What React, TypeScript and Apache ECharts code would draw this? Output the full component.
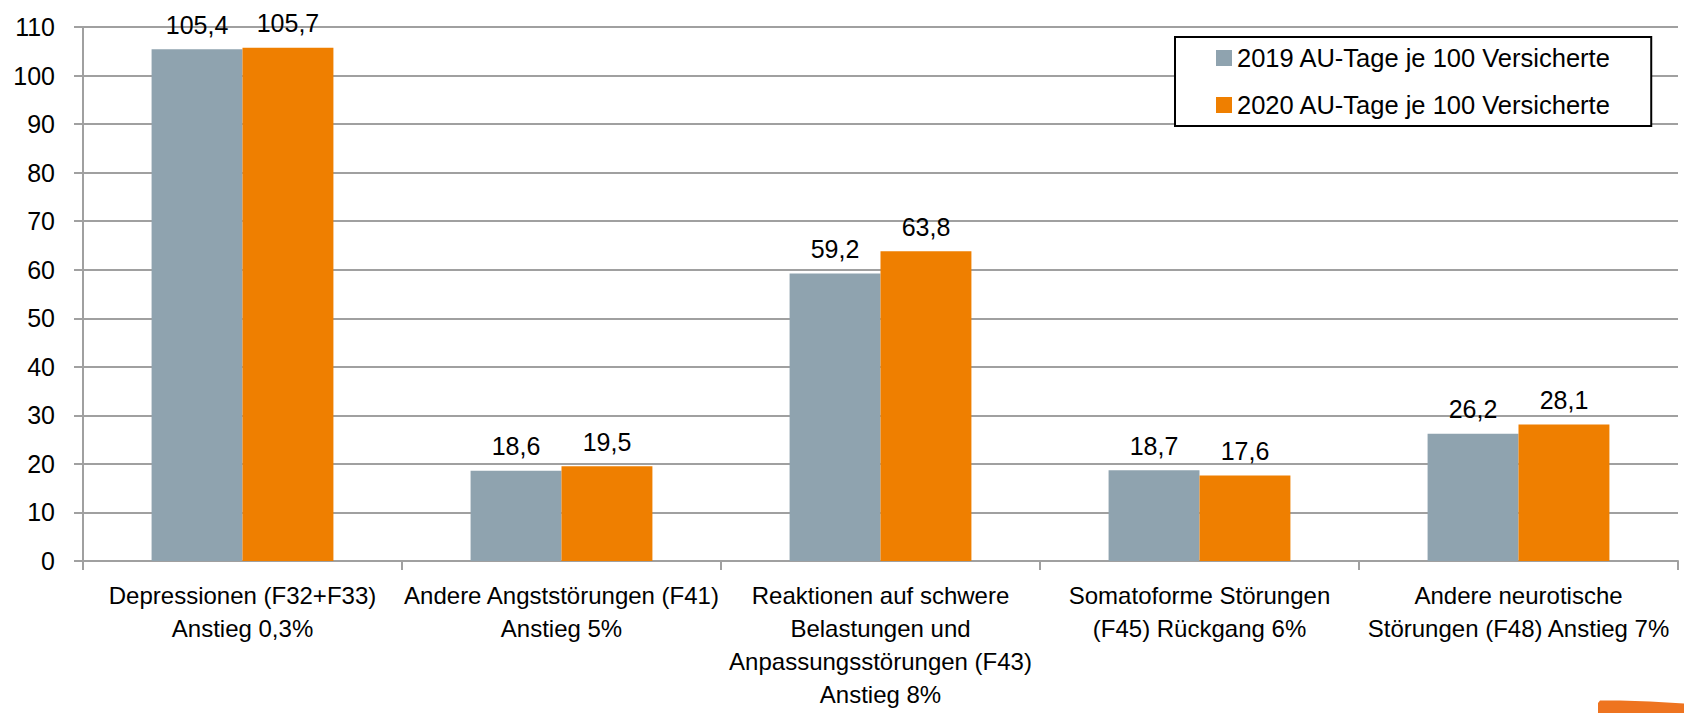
import React, { useEffect, useRef } from "react";
import * as echarts from "echarts";

const categories = [
  "Depressionen (F32+F33)\nAnstieg 0,3%",
  "Andere Angststörungen (F41)\nAnstieg 5%",
  "Reaktionen auf schwere\nBelastungen und\nAnpassungsstörungen (F43)\nAnstieg 8%",
  "Somatoforme Störungen\n(F45) Rückgang 6%",
  "Andere neurotische\nStörungen (F48) Anstieg 7%",
];
const values2019 = [105.4, 18.6, 59.2, 18.7, 26.2];
const values2020 = [105.7, 19.5, 63.8, 17.6, 28.1];
const seriesNames = ["2019 AU-Tage je 100 Versicherte", "2020 AU-Tage je 100 Versicherte"];

const FONT = "'Liberation Sans', Arial, sans-serif";
const GRAY = "#8FA3AF";
const ORANGE = "#EF7F00";
const AXIS = "#A0A0A0";

const fmt = (p: any) => Number(p.value).toFixed(1).replace(".", ",");

export default function App() {
  const ref = useRef<HTMLDivElement>(null);
  useEffect(() => {
    if (!ref.current) return;
    const chart = echarts.init(ref.current, undefined, { renderer: "svg" });
    chart.setOption({
      animation: false,
      backgroundColor: "#fff",
      textStyle: { fontFamily: FONT },
      grid: { left: 83, right: 6, top: 27, bottom: 152, containLabel: false },
      legend: {
        orient: "vertical",
        left: 1175,
        top: 37,
        padding: [8, 40, 8, 41],
        itemGap: 21,
        itemWidth: 16,
        itemHeight: 16,
        icon: "rect",
        borderColor: "#000",
        borderWidth: 2,
        backgroundColor: "#fff",
        textStyle: { fontFamily: FONT, fontSize: 25.5, color: "#000" },
        data: seriesNames,
      },
      xAxis: {
        type: "category",
        data: categories,
        axisLine: { show: true, lineStyle: { color: AXIS, width: 2 } },
        axisTick: { show: true, length: 9, alignWithLabel: false, lineStyle: { color: AXIS, width: 2 } },
        axisLabel: {
          interval: 0,
          margin: 18,
          fontFamily: FONT,
          fontSize: 24,
          lineHeight: 33,
          color: "#000",
          align: "center",
        },
      },
      yAxis: {
        type: "value",
        min: 0,
        max: 110,
        interval: 10,
        axisLine: { show: true, lineStyle: { color: AXIS, width: 2 } },
        axisTick: { show: true, length: 9, lineStyle: { color: AXIS, width: 2 } },
        splitLine: { show: true, lineStyle: { color: AXIS, width: 2 } },
        axisLabel: { margin: 28, fontFamily: FONT, fontSize: 25, color: "#000" },
      },
      series: [
        {
          name: seriesNames[0],
          type: "bar",
          data: values2019,
          barGap: "0%",
          barCategoryGap: "43%",
          itemStyle: { color: GRAY },
          label: { show: true, position: "top", distance: 12, formatter: fmt, fontFamily: FONT, fontSize: 25, color: "#000" },
        },
        {
          name: seriesNames[1],
          type: "bar",
          data: values2020,
          barGap: "0%",
          barCategoryGap: "43%",
          itemStyle: { color: ORANGE },
          label: { show: true, position: "top", distance: 12, formatter: fmt, fontFamily: FONT, fontSize: 25, color: "#000" },
        },
      ],
      graphic: [
        {
          type: "polygon",
          silent: true,
          shape: {
            points: [
              [1598, 713],
              [1598, 703],
              [1600, 700.5],
              [1620, 700.5],
              [1650, 701.5],
              [1684, 703.5],
              [1684, 713],
            ],
          },
          style: { fill: "#EE7420" },
        },
      ],
    });
    return () => chart.dispose();
  }, []);
  return (
    <div
      ref={ref}
      style={{ position: "fixed", left: 0, top: 0, width: 1684, height: 713 }}
    />
  );
}
